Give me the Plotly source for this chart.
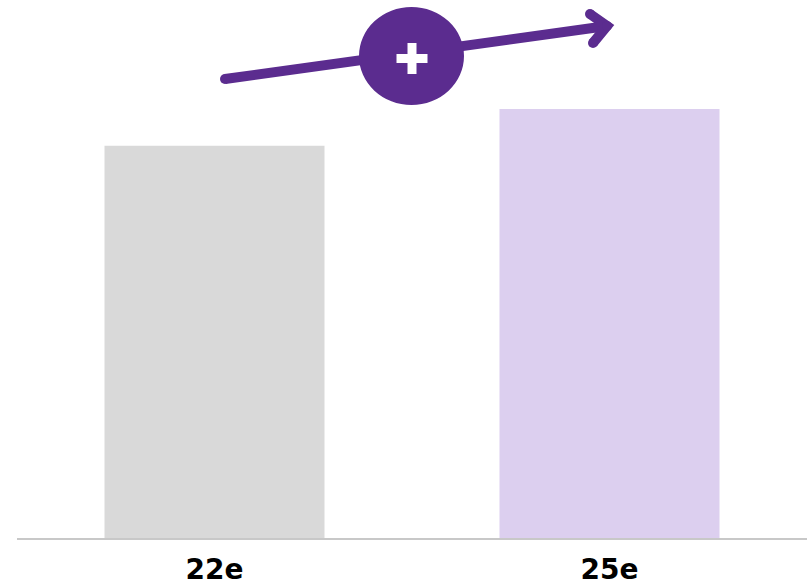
import plotly.graph_objects as go

# Data
categories = ["22e", "25e"]
values = [100.0, 109.4]
bar_colors = ["#d9d9d9", "#dccfef"]

W, H = 807, 586
ML, MR, MT, MB = 17, 0, 0, 48
PW, PH = W - ML - MR, H - MT - MB

PURPLE = "#5b2c8f"
LW = 10


def px(xp):
    return (xp - ML) / PW


def py(yp):
    return (H - MB - yp) / PH


fig = go.Figure()
fig.add_trace(go.Bar(
    x=categories, y=values, width=0.557,
    marker=dict(color=bar_colors, line=dict(width=0)),
    hoverinfo="skip",
))

shapes = []
# growth arrow line
shapes.append(dict(type="line", xref="paper", yref="paper",
                   x0=px(225), y0=py(79), x1=px(607), y1=py(26),
                   line=dict(color=PURPLE, width=LW), layer="above"))
# arrow head chevron
shapes.append(dict(type="path", xref="paper", yref="paper",
                   path=f"M {px(590)},{py(14)} L {px(607)},{py(26)} L {px(593)},{py(43)}",
                   line=dict(color=PURPLE, width=LW), layer="above"))
# rounded caps
r = LW / 2
for cx, cy in [(225, 79), (590, 14), (593, 43), (607, 26)]:
    shapes.append(dict(type="circle", xref="paper", yref="paper",
                       xsizemode="pixel", ysizemode="pixel",
                       xanchor=px(cx), yanchor=py(cy),
                       x0=-r, x1=r, y0=-r, y1=r,
                       fillcolor=PURPLE, line=dict(width=0), layer="above"))
# badge
shapes.append(dict(type="circle", xref="paper", yref="paper",
                   xsizemode="pixel", ysizemode="pixel",
                   xanchor=px(411.5), yanchor=py(56),
                   x0=-52.5, x1=52.5, y0=-49, y1=49,
                   fillcolor=PURPLE, line=dict(width=0), layer="above"))
# plus sign
shapes.append(dict(type="rect", xref="paper", yref="paper",
                   xsizemode="pixel", ysizemode="pixel",
                   xanchor=px(412), yanchor=py(58.5),
                   x0=-15.5, x1=15.5, y0=-4.5, y1=4.5,
                   fillcolor="white", line=dict(width=0), layer="above"))
shapes.append(dict(type="rect", xref="paper", yref="paper",
                   xsizemode="pixel", ysizemode="pixel",
                   xanchor=px(412), yanchor=py(58.5),
                   x0=-4.5, x1=4.5, y0=-15.5, y1=15.5,
                   fillcolor="white", line=dict(width=0), layer="above"))

fig.update_layout(
    width=W, height=H,
    margin=dict(l=ML, r=MR, t=MT, b=MB),
    paper_bgcolor="white", plot_bgcolor="white",
    showlegend=False,
    shapes=shapes,
    xaxis=dict(range=[-0.5, 1.5], showgrid=False, zeroline=False,
               showline=True, linecolor="#c8c8c8", linewidth=2,
               ticks="", ticklabelstandoff=5,
               tickfont=dict(family="DejaVu Sans", size=28, color="black", weight="bold"),
               fixedrange=True),
    yaxis=dict(range=[0, 137.2], visible=False, fixedrange=True),
)

fig.write_html("out.html")
